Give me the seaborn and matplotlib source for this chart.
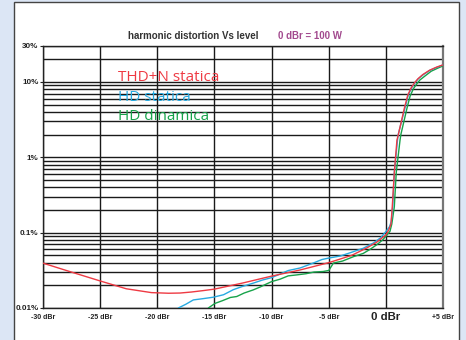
import matplotlib
matplotlib.use("Agg")
import matplotlib.pyplot as plt
import seaborn as sns
import pandas as pd
from matplotlib.patches import Rectangle
from matplotlib.ticker import LogLocator, NullFormatter, FixedLocator

# ---- data ----
red_x = [-30, -27.5, -25, -22.7, -20.5, -19, -18, -17, -16, -15, -12.5, -10, -7.5, -5, -3, -1.7, -0.8, 0,
         0.25, 0.43, 0.54, 0.72, 0.95, 1.07, 1.6, 1.9, 2.2, 2.5, 2.78, 3.2, 3.8, 4.4, 5.0]
red_y = [0.0395, 0.030, 0.0229, 0.018, 0.016, 0.0157, 0.0158, 0.0163, 0.017, 0.0178, 0.0215, 0.0265, 0.032,
         0.040, 0.050, 0.0625, 0.075, 0.094, 0.11, 0.13, 0.22, 0.63, 1.69, 2.0, 4.5, 6.7, 8.4, 9.8, 11.0,
         12.5, 14.3, 15.7, 16.9]

blue_x = [-18.15, -17.5, -16.84, -16.0, -15.1, -14.2, -13.35, -12.6, -11.6, -10.8, -10.0, -9.2, -8.55, -7.5,
          -6.36, -5.6, -5.0, -4.0, -3.15, -2.0, -1.1, -0.5, 0, 0.3, 0.45, 0.58, 0.72, 1.0, 1.07, 1.65, 1.94,
          2.24, 2.53, 2.81, 3.25, 3.84, 4.42, 5.0]
blue_y = [0.01, 0.0112, 0.0128, 0.0133, 0.0139, 0.015, 0.0175, 0.0192, 0.0214, 0.0235, 0.0253, 0.0285, 0.0314,
          0.034, 0.0395, 0.044, 0.046, 0.049, 0.054, 0.062, 0.073, 0.085, 0.104, 0.12, 0.14, 0.22, 0.63, 1.69,
          2.03, 4.5, 6.7, 8.4, 9.8, 11.0, 12.5, 14.3, 15.6, 16.9]

green_x = [-15.53, -14.95, -14.3, -13.6, -13.05, -12.4, -11.6, -11.0, -10.4, -10.0, -9.27, -8.55, -7.8, -7.0,
           -6.3, -5.5, -5.0, -4.6, -3.8, -2.85, -2.0, -1.4, -0.82, -0.3, 0.34, 0.5, 0.72, 0.89, 1.22, 1.3,
           1.83, 2.1, 2.4, 2.7, 2.95, 3.4, 3.95, 4.5, 5.0]
green_y = [0.01, 0.0115, 0.0125, 0.0138, 0.0142, 0.0158, 0.0174, 0.019, 0.021, 0.0224, 0.0241, 0.0267, 0.0275,
           0.0285, 0.030, 0.0305, 0.0315, 0.0395, 0.042, 0.048, 0.053, 0.060, 0.069, 0.08, 0.104, 0.13, 0.22,
           0.63, 1.69, 2.03, 4.5, 6.5, 8.2, 9.5, 10.6, 12.0, 13.9, 15.2, 16.4]

series_names = ["THD+N statica", "HD statica", "HD dinamica"]
series_colors = ["#ee3a43", "#27aae1", "#17a34a"]

x_ticks = [-30, -25, -20, -15, -10, -5, 0, 5]
x_tick_labels = ["-30 dBr", "-25 dBr", "-20 dBr", "-15 dBr", "-10 dBr", "-5 dBr", "0 dBr", "+5 dBr"]
y_ticks = [0.01, 0.1, 1, 10, 30]
y_tick_labels = ["0.01%", "0.1%", "1%", "10%", "30%"]

title_text = "harmonic distortion Vs level"
subtitle_text = "0 dBr = 100 W"

# ---- figure ----
sns.set_theme(style="white")
plt.rcParams['font.family'] = ['Liberation Sans', 'DejaVu Sans']

fig = plt.figure(figsize=(4.66, 3.40), dpi=100, facecolor="#dce6f5")
W, H = 466, 340
panel = Rectangle((14 / W, -0.05), (459 - 14) / W, 1.05 - 2 / H,
                  transform=fig.transFigure, facecolor="white",
                  edgecolor="#444444", linewidth=1.0, zorder=-5)
fig.patches.append(panel)

ax = fig.add_axes([42.7 / W, (H - 308) / H, 400.6 / W, 262 / H])
ax.set_zorder(2)
ax.set_facecolor("white")

frames = []
for name, xs, ys in zip(series_names, [red_x, blue_x, green_x], [red_y, blue_y, green_y]):
    frames.append(pd.DataFrame({"dBr": xs, "thd": ys, "series": name}))
df = pd.concat(frames, ignore_index=True)

sns.lineplot(data=df, x="dBr", y="thd", hue="series", palette=dict(zip(series_names, series_colors)),
             hue_order=series_names[::-1], sort=False, estimator=None, linewidth=1.0, legend=False, ax=ax,
             zorder=3)

ax.set_yscale("log")
ax.set_xlim(-30, 5)
ax.set_ylim(0.01, 30)

ax.yaxis.set_major_locator(FixedLocator(y_ticks))
ax.set_yticklabels(y_tick_labels)
ax.yaxis.set_minor_locator(LogLocator(base=10, subs=range(2, 10), numticks=20))
ax.yaxis.set_minor_formatter(NullFormatter())
ax.set_xticks(x_ticks)
ax.set_xticklabels(x_tick_labels)

ax.grid(True, which="major", color="#1a1a1a", linewidth=1.0, zorder=1)
ax.grid(True, which="minor", axis="y", color="#1a1a1a", linewidth=1.0, zorder=1)
ax.set_axisbelow(True)

ax.tick_params(axis="y", which="major", length=2, width=0.8, color="#222", pad=1,
               labelsize=5.8, left=True)
ax.tick_params(axis="y", which="minor", length=0)
ax.tick_params(axis="x", which="major", length=0, pad=6.8, labelsize=5.0)
for lab in ax.get_yticklabels():
    lab.set_fontweight("bold")
    lab.set_color("#222")
for lab in ax.get_xticklabels():
    lab.set_fontweight("bold")
    lab.set_color("#222")
    lab.set_va("center")
    if lab.get_text() == "0 dBr":
        lab.set_fontsize(8.2)

for side in ["top", "left", "bottom"]:
    ax.spines[side].set_color("#222")
    ax.spines[side].set_linewidth(1.0)
ax.spines["right"].set_color("#777777")
ax.spines["right"].set_linewidth(1.6)

ax.set_xlabel("")
ax.set_ylabel("")

# title texts
fig.text(193 / W, 1 - 39.3 / H, title_text, ha="center", va="baseline", fontsize=7.0,
         fontweight="bold", color="#333333")
fig.text(310 / W, 1 - 39.3 / H, subtitle_text, ha="center", va="baseline", fontsize=7.0,
         fontweight="bold", color="#a24a8e")

# in-plot legend labels
label_base = [80.7, 101.0, 120.5]
for name, col, yb in zip(series_names, series_colors, label_base):
    ax.text((118 - 42.7) / 400.6, (308 - yb) / 262, name, transform=ax.transAxes, ha="left",
            va="baseline", fontsize=11, color=col, family=["Open Sans", "DejaVu Sans"], zorder=4)

fig.savefig("out.png", dpi=100, facecolor=fig.get_facecolor())
